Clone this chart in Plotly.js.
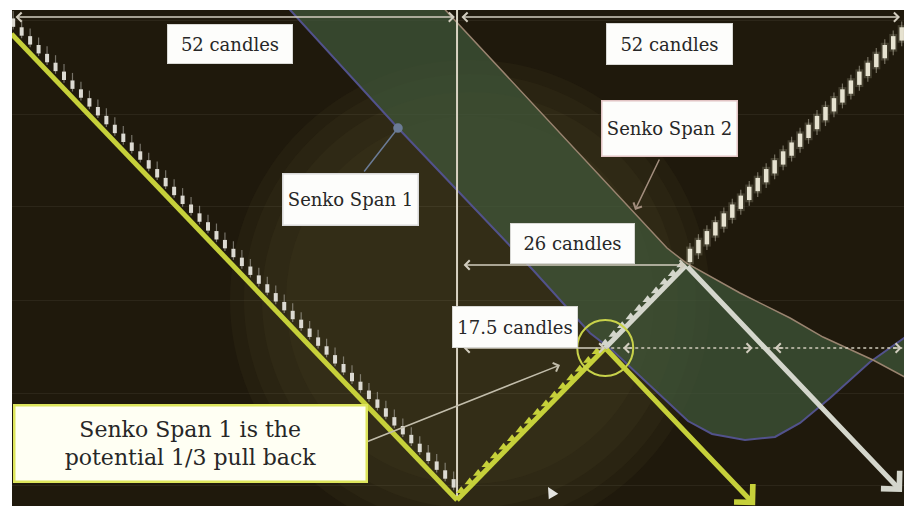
<!DOCTYPE html>
<html>
<head>
<meta charset="utf-8">
<script src="https://cdn.plot.ly/plotly-3.0.1.min.js"></script>
<style>
  html, body { margin: 0; padding: 0; background: #ffffff; }
  #chart { width: 904px; height: 506px; }
</style>
</head>
<body>
<div id="chart"></div>
<script>
// Ichimoku cloud: a falling leg, the rebound and the Senkou spans,
// with candle counts measured from the swing low.
// x = candles from the swing low, y = price.

// bars of the falling leg (candle index, mid price)
const fallCandleT = [-52.4, -51.4, -50.4, -49.4, -48.4, -47.4, -46.4, -45.4, -44.4, -43.4,
  -42.4, -41.4, -40.4, -39.4, -38.4, -37.4, -36.4, -35.4, -34.4, -33.4, -32.4, -31.4, -30.4,
  -29.4, -28.4, -27.4, -26.4, -25.4, -24.4, -23.4, -22.4, -21.4, -20.4, -19.4, -18.4, -17.4,
  -16.4, -15.4, -14.4, -13.4, -12.4, -11.4, -10.4, -9.4, -8.4, -7.4, -6.4, -5.4, -4.4, -3.4,
  -2.4, -1.4, -0.4];
const fallCandleMid = [63.9, 62.9, 61.9, 60.9, 59.9, 58.9, 57.9, 56.9, 55.9, 54.9,
  53.9, 52.9, 51.9, 50.9, 49.9, 48.9, 47.9, 46.9, 45.9, 44.9, 43.9, 42.9, 41.9,
  40.9, 39.9, 38.9, 37.9, 36.9, 35.9, 34.9, 33.9, 32.9, 31.9, 30.9, 29.9, 28.9,
  27.9, 26.9, 25.9, 24.9, 23.9, 22.9, 21.9, 20.9, 19.9, 18.9, 17.9, 16.9, 15.9, 14.9,
  13.9, 12.9, 11.9];

// saw-tooth bars along the rebound
const riseToothT = [0.5, 1.5, 2.5, 3.5, 4.5, 5.5, 6.5, 7.5, 8.5, 9.5, 10.5, 11.5, 12.5, 13.5,
  14.5, 15.5, 16.5, 17.5, 18.5, 19.5, 20.5, 21.5, 22.5, 23.5, 24.5, 25.5, 26.5];
const riseToothP = [11.04, 12.02, 13.0, 13.98, 14.96, 15.94, 16.92, 17.9, 18.88, 19.86, 20.84,
  21.82, 22.8, 23.78, 24.76, 25.74, 26.72, 27.7, 28.68, 29.66, 30.64, 31.62, 32.6, 33.58,
  34.56, 35.54, 36.52];

// bars climbing away from the peak
const climbCandleT = [27.5, 28.5, 29.5, 30.5, 31.5, 32.5, 33.5, 34.5, 35.5, 36.5, 37.5, 38.5,
  39.5, 40.5, 41.5, 42.5, 43.5, 44.5, 45.5, 46.5, 47.5, 48.5, 49.5, 50.5, 51.5, 52.5];
const climbCandleMid = [37.6, 38.6, 39.6, 40.6, 41.6, 42.6, 43.6, 44.6, 45.6, 46.6, 47.6, 48.6,
  49.6, 50.6, 51.6, 52.6, 53.6, 54.6, 55.6, 56.6, 57.6, 58.6, 59.6, 60.6, 61.6, 62.6];

// trend legs: high -> swing low, swing low -> pull-back point -> peak
const fallLineT = [-52.6, 0];
const fallLineP = [62.6, 10.0];
const riseLineT = [0, 17.5, 27.04];
const riseLineP = [10.0, 27.15, 36.5];

// projected moves from the pull-back point and from the peak
const yellowProjT = [17.5, 35.2];
const yellowProjP = [27.15, 9.4];
const whiteProjT = [27.04, 52.54];
const whiteProjP = [36.5, 10.9];

// Senkou spans
const span1T = [-20.78, -6.97, 8.97, 15.70, 18.30, 21.61, 24.56, 27.27, 30.11, 34.00, 37.54,
  40.50, 44.04, 48.76, 52.77, 53.84];
const span1P = [66.43, 51.98, 35.96, 28.85, 26.93, 23.99, 21.28, 18.91, 17.45, 16.77, 17.11,
  18.69, 21.51, 25.57, 28.28, 28.96];
const span2T = [-2.48, 24.79, 27.04, 33.41, 39.32, 43.21, 49.11, 53.72];
const span2P = [66.43, 38.44, 36.75, 33.36, 30.54, 28.39, 25.80, 23.43];

// candle counts
const countLabels = ['52 candles', '52 candles', '26 candles', '17.5 candles'];
const countFrom = [-52.3, 0.35, 0.6, 0.6];
const countTo = [-0.25, 52.3, 27.0, 17.5];
const countLevel = [64.5, 64.5, 36.52, 27.15];
const countLabelT = [-26.8, 25.03, 13.58, 6.85];
const countLabelP = [61.46, 61.46, 39.0, 29.52];

// forward count after the pull-back point
const forwardT = [17.5, 53.0];
const forwardHeadT = [19.6, 34.9, 37.5, 52.5];
const forwardHeadDir = [-1, 1, -1, 1];

// span callouts
const spanLabels = ['Senko Span 1', 'Senko Span 2'];
const spanLabelT = [-12.63, 25.03];
const spanLabelP = [43.86, 51.87];
const spanPointerFromT = [-11.1, 23.97];
const spanPointerFromP = [46.9, 48.6];
const spanPointerToT = [-6.97, 21.02];
const spanPointerToP = [51.98, 42.73];

// note
const noteText = 'Senko Span 1 is the<br>potential 1/3 pull back';
const noteT = -31.52;
const noteP = 16.43;
const notePointerFrom = [-10.74, 16.54];
const notePointerTo = [12.16, 25.23];

// horizontal grid levels and the glow centre
const gridLevels = [11.58, 22.07, 32.57, 43.07, 53.56, 64.06];
const glowCentre = [1.53, 32.57];

// mouse pointer
const cursorT = [10.74];
const cursorP = [11.46];

const YELLOW = '#c6d03a';
const PALE = '#d4d6cc';
const SERIF = 'DejaVu Serif';

function candleSegments(ts, mids, lo, hi) {
  const x = [], y = [];
  for (let i = 0; i < ts.length; i++) {
    x.push(ts[i], ts[i], null);
    y.push(mids[i] + lo, mids[i] + hi, null);
  }
  return { x, y };
}

function segTrace(seg, color, width) {
  return { type: 'scatter', mode: 'lines', x: seg.x, y: seg.y,
    line: { color: color, width: width }, hoverinfo: 'skip' };
}

const pullbackT = riseLineT[1];
const pullbackP = riseLineP[1];

const traces = [];

// cloud between the spans
traces.push({
  type: 'scatter', mode: 'lines',
  x: span2T.concat(span1T.slice().reverse()),
  y: span2P.concat(span1P.slice().reverse()),
  fill: 'toself', fillcolor: 'rgba(64,88,58,0.72)',
  line: { width: 0 }, hoverinfo: 'skip'
});
traces.push({ type: 'scatter', mode: 'lines', x: span1T, y: span1P,
  line: { color: '#52528c', width: 2 }, hoverinfo: 'skip' });
traces.push({ type: 'scatter', mode: 'lines', x: span2T, y: span2P,
  line: { color: '#9a8470', width: 1.5 }, hoverinfo: 'skip' });

// swing-low marker line
traces.push({ type: 'scatter', mode: 'lines', x: [fallLineT[1], fallLineT[1]], y: [fallLineP[1], 66.5],
  line: { color: '#d8d2c2', width: 2 }, hoverinfo: 'skip' });

// falling-leg bars
traces.push(segTrace(candleSegments(fallCandleT, fallCandleMid, -0.8, 1.3), 'rgba(190,188,180,0.55)', 1.2));
traces.push(segTrace(candleSegments(fallCandleT, fallCandleMid, -0.5, 0.45), '#dcdad2', 4));

// climbing bars
traces.push(segTrace(candleSegments(climbCandleT, climbCandleMid, -1.0, 1.0), 'rgba(230,225,200,0.18)', 8));
traces.push(segTrace(candleSegments(climbCandleT, climbCandleMid, -1.4, 1.4), 'rgba(200,196,178,0.5)', 1.2));
traces.push(segTrace(candleSegments(climbCandleT, climbCandleMid, -0.75, 0.75), '#e6e2d0', 4.5));

// rebound teeth
traces.push({
  type: 'scatter', mode: 'markers', x: riseToothT, y: riseToothP,
  marker: { symbol: 'triangle-up', size: 9,
    color: riseToothT.map(t => (t < pullbackT ? YELLOW : PALE)), line: { width: 0 } },
  hoverinfo: 'skip'
});

// trend legs
traces.push({ type: 'scatter', mode: 'lines', x: fallLineT, y: fallLineP,
  line: { color: YELLOW, width: 5 }, hoverinfo: 'skip' });
traces.push({ type: 'scatter', mode: 'lines', x: riseLineT.slice(0, 2), y: riseLineP.slice(0, 2),
  line: { color: YELLOW, width: 5 }, hoverinfo: 'skip' });
traces.push({ type: 'scatter', mode: 'lines', x: riseLineT.slice(1), y: riseLineP.slice(1),
  line: { color: PALE, width: 5 }, hoverinfo: 'skip' });

// forward dotted count
traces.push({ type: 'scatter', mode: 'lines', x: forwardT, y: [pullbackP, pullbackP],
  line: { color: '#cfcabb', width: 1.5, dash: 'dot' }, hoverinfo: 'skip' });

// mouse pointer
traces.push({ type: 'scatter', mode: 'markers', x: cursorT, y: cursorP,
  marker: { symbol: 'arrow-up', size: 11, angle: -30, color: '#e4e4e0' }, hoverinfo: 'skip' });

const annotations = [];

function arrowAnn(x0, y0, x1, y1, opts) {
  return Object.assign({
    x: x1, y: y1, ax: x0, ay: y0, xref: 'x', yref: 'y', axref: 'x', ayref: 'y',
    text: '', showarrow: true, arrowhead: 4, arrowsize: 1.2, arrowwidth: 1.5,
    arrowcolor: '#d2cdbf', standoff: 0, startstandoff: 0
  }, opts || {});
}

// projections
annotations.push(arrowAnn(yellowProjT[0], yellowProjP[0], yellowProjT[1], yellowProjP[1],
  { arrowcolor: YELLOW, arrowwidth: 5, arrowsize: 1.0 }));
annotations.push(arrowAnn(whiteProjT[0], whiteProjP[0], whiteProjT[1], whiteProjP[1],
  { arrowcolor: PALE, arrowwidth: 5, arrowsize: 1.0 }));

// count arrows
for (let i = 0; i < countLabels.length; i++) {
  annotations.push(arrowAnn(countFrom[i], countLevel[i], countTo[i], countLevel[i], {
    arrowside: 'end+start', startarrowhead: 4, startarrowsize: 1.2
  }));
}
for (let i = 0; i < forwardHeadT.length; i++) {
  annotations.push(arrowAnn(forwardHeadT[i] - forwardHeadDir[i] * 1.2, pullbackP,
    forwardHeadT[i], pullbackP, {}));
}

// pointers
annotations.push(arrowAnn(spanPointerFromT[0], spanPointerFromP[0], spanPointerToT[0], spanPointerToP[0],
  { arrowcolor: '#6b7b96', arrowhead: 6, arrowsize: 1.6 }));
annotations.push(arrowAnn(spanPointerFromT[1], spanPointerFromP[1], spanPointerToT[1], spanPointerToP[1],
  { arrowcolor: '#a38e7e' }));
annotations.push(arrowAnn(notePointerFrom[0], notePointerFrom[1], notePointerTo[0], notePointerTo[1],
  { arrowcolor: '#c2bdab' }));

// label boxes
const countBoxW = [124, 125, 123, 124];
const countBoxH = [38, 40, 39, 40];
for (let i = 0; i < countLabels.length; i++) {
  annotations.push({
    x: countLabelT[i], y: countLabelP[i], xref: 'x', yref: 'y', text: countLabels[i],
    showarrow: false, bgcolor: '#fdfdfb', bordercolor: '#d8d8d4', borderwidth: 1, borderpad: 0,
    width: countBoxW[i], height: countBoxH[i], valign: 'middle',
    font: { family: SERIF, size: 18, color: '#272727' }
  });
}
const spanBoxH = [50, 54];
const spanBorder = ['#d8d8d8', '#e2c4c4'];
for (let i = 0; i < spanLabels.length; i++) {
  annotations.push({
    x: spanLabelT[i], y: spanLabelP[i], xref: 'x', yref: 'y', text: spanLabels[i],
    showarrow: false, bgcolor: '#fdfdfb', bordercolor: spanBorder[i], borderwidth: 1.5, borderpad: 0,
    width: 134, height: spanBoxH[i], valign: 'middle',
    font: { family: SERIF, size: 18, color: '#272727' }
  });
}
annotations.push({
  x: noteT, y: noteP, xref: 'x', yref: 'y', text: noteText, showarrow: false,
  bgcolor: '#fffff3', bordercolor: '#dde55c', borderwidth: 2.5, borderpad: 0,
  width: 350, height: 74, valign: 'middle',
  font: { family: SERIF, size: 22, color: '#272727' }
});

// background glow and the pull-back ring
const shapes = [];
[240, 226, 208, 184].forEach(r => {
  shapes.push({
    type: 'circle', layer: 'below', xref: 'x', yref: 'y',
    xsizemode: 'pixel', ysizemode: 'pixel', xanchor: glowCentre[0], yanchor: glowCentre[1],
    x0: -r, x1: r, y0: -r, y1: r,
    fillcolor: 'rgba(88,80,46,0.11)', line: { width: 0 }
  });
});
shapes.push({
  type: 'circle', layer: 'above', xref: 'x', yref: 'y',
  xsizemode: 'pixel', ysizemode: 'pixel', xanchor: pullbackT, yanchor: pullbackP,
  x0: -28, x1: 28, y0: -28, y1: 28,
  line: { color: '#c8d24a', width: 2 }
});

const layout = {
  width: 904, height: 506,
  margin: { l: 12, r: 0, t: 10, b: 0, pad: 0 },
  paper_bgcolor: '#ffffff',
  plot_bgcolor: '#1f190c',
  showlegend: false,
  hovermode: false,
  font: { family: SERIF },
  xaxis: { range: [-52.54, 52.77], showgrid: false, zeroline: false, showticklabels: false,
    ticks: '', showline: false },
  yaxis: { range: [9.32, 65.3], tickmode: 'array', tickvals: gridLevels, showgrid: true,
    gridcolor: 'rgba(255,250,230,0.06)', gridwidth: 1, zeroline: false,
    showticklabels: false, ticks: '', showline: false },
  shapes: shapes,
  annotations: annotations
};

Plotly.newPlot('chart', traces, layout, { staticPlot: true, displayModeBar: false });
</script>
</body>
</html>
